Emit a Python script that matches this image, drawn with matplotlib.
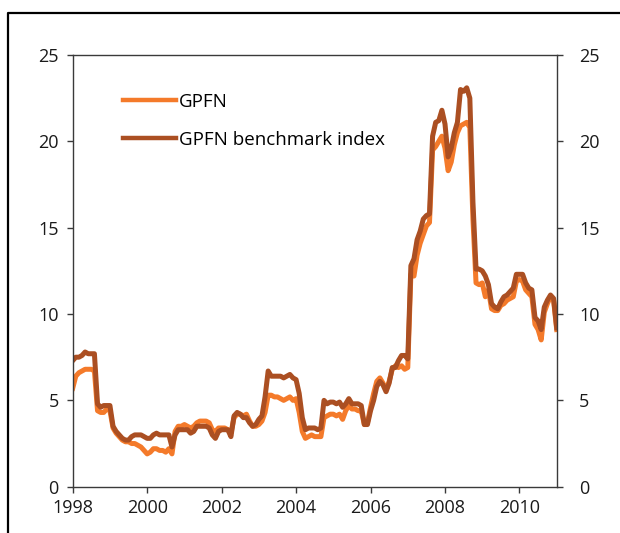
import numpy as np
import matplotlib.pyplot as plt
from matplotlib.lines import Line2D

plt.rcParams['font.family'] = ['Open Sans', 'DejaVu Sans']

# monthly values, Jan 1998 - Jan 2011
gpfn = [
    5.7, 6.4, 6.6, 6.7, 6.8, 6.8, 6.8, 6.7, 4.4, 4.3, 4.3, 4.5,        # 1998
    4.4, 3.4, 3.1, 2.9, 2.7, 2.6, 2.6, 2.5, 2.5, 2.4, 2.3, 2.1,        # 1999
    1.9, 2.0, 2.2, 2.2, 2.1, 2.1, 2.0, 2.2, 1.9, 3.2, 3.5, 3.5,        # 2000
    3.6, 3.5, 3.4, 3.5, 3.7, 3.8, 3.8, 3.8, 3.7, 3.3, 3.2, 3.4,        # 2001
    3.4, 3.4, 3.3, 3.1, 4.0, 4.2, 4.2, 4.1, 4.2, 3.8, 3.5, 3.5,        # 2002
    3.6, 3.8, 4.3, 5.3, 5.3, 5.2, 5.2, 5.1, 5.0, 5.1, 5.2, 5.0,        # 2003
    5.1, 4.3, 3.2, 2.8, 2.9, 3.0, 2.9, 2.9, 2.9, 4.0, 4.1, 4.2,        # 2004
    4.2, 4.1, 4.2, 3.9, 4.4, 4.7, 4.5, 4.5, 4.4, 4.4, 3.6, 3.7,        # 2005
    4.6, 5.4, 6.1, 6.3, 6.0, 5.6, 6.1, 6.8, 7.0, 6.9, 7.0, 6.8,        # 2006
    6.9, 12.3, 12.2, 13.4, 14.1, 14.6, 15.1, 15.3, 19.5, 19.7, 20.0, 20.3,   # 2007
    19.6, 18.3, 18.8, 19.8, 20.5, 20.9, 21.0, 21.1, 20.8, 15.5, 11.8, 11.7,  # 2008
    11.8, 11.0, 11.4, 10.3, 10.2, 10.2, 10.5, 10.6, 10.8, 10.9, 11.0, 11.9,  # 2009
    12.0, 11.9, 11.4, 11.2, 11.0, 9.4, 9.1, 8.5, 10.1, 10.6, 11.0, 10.8,     # 2010
    9.1,
]
bench = [
    7.3, 7.5, 7.5, 7.6, 7.8, 7.7, 7.7, 7.7, 4.8, 4.6, 4.7, 4.7,
    4.7, 3.5, 3.2, 3.0, 2.8, 2.7, 2.7, 2.9, 3.0, 3.0, 3.0, 2.9,
    2.8, 2.8, 3.0, 3.1, 3.0, 3.0, 3.0, 3.0, 2.3, 3.0, 3.3, 3.3,
    3.3, 3.3, 3.1, 3.2, 3.5, 3.5, 3.5, 3.5, 3.4, 3.0, 2.8, 3.2,
    3.3, 3.3, 3.3, 2.9, 4.1, 4.3, 4.2, 4.0, 4.0, 3.7, 3.5, 3.6,
    3.9, 4.1, 5.2, 6.7, 6.4, 6.4, 6.4, 6.4, 6.3, 6.4, 6.5, 6.3,
    6.2, 5.4, 4.0, 3.3, 3.4, 3.4, 3.4, 3.3, 3.4, 5.0, 4.8, 4.9,
    4.9, 4.8, 4.9, 4.6, 4.8, 5.1, 4.8, 4.8, 4.8, 4.7, 3.6, 3.6,
    4.4, 5.0, 5.8, 6.1, 5.9, 5.5, 6.0, 6.9, 6.9, 7.3, 7.6, 7.6,
    7.4, 12.8, 13.2, 14.3, 14.8, 15.5, 15.7, 15.8, 20.3, 21.1, 21.2, 21.8,
    21.0, 19.1, 19.6, 20.5, 21.1, 23.0, 22.9, 23.1, 22.5, 16.5, 12.6, 12.6,
    12.5, 12.2, 11.7, 10.6, 10.4, 10.3, 10.7, 11.0, 11.1, 11.3, 11.5, 12.3,
    12.3, 12.3, 11.8, 11.5, 11.4, 9.8, 9.6, 9.1, 10.4, 10.8, 11.1, 10.9,
    9.2,
]
labels = ['GPFN', 'GPFN benchmark index']
year_ticks = [1998, 2000, 2002, 2004, 2006, 2008, 2010]
y_ticks = [0, 5, 10, 15, 20, 25]

orange = '#f47a2a'
brown = '#ab4f22'
axis_col = '#3a3a3a'
fs = 13

t = 1998 + np.arange(len(gpfn)) / 12

fig = plt.figure(figsize=(6.2, 5.33), dpi=100)
ax = fig.add_axes([72.7 / 620, 1 - 486.7 / 533, 484 / 620, 431.7 / 533])

ax.plot(t, gpfn, color=orange, lw=3.6, label=labels[0], solid_joinstyle='round')
ax.plot(t, bench, color=brown, lw=3.6, label=labels[1], solid_joinstyle='round')

ax.set_xlim(1998, t[-1])
ax.set_ylim(0, 25)
ax.set_xticks(year_ticks)
ax.set_yticks(y_ticks)

for s in ax.spines.values():
    s.set_color(axis_col)
    s.set_linewidth(1.0)

ax.tick_params(axis='both', direction='out', length=4, width=1, color=axis_col,
               labelsize=fs, labelcolor='#1a1a1a')
ax.tick_params(axis='y', pad=6)
ax.tick_params(axis='x', pad=5)

# right hand scale
ax2 = ax.twinx()
ax2.set_ylim(0, 25)
ax2.set_yticks(y_ticks)
ax2.tick_params(axis='y', direction='out', length=4, width=1, color=axis_col,
                labelsize=fs, labelcolor='#1a1a1a', pad=12)
for s in ax2.spines.values():
    s.set_visible(False)

leg = ax.legend(loc='upper left', bbox_to_anchor=(0.104, 0.912), frameon=False,
                fontsize=13.5, handlelength=2.8, handletextpad=0.2,
                labelspacing=1.05, borderaxespad=0, borderpad=0)
for h in leg.get_lines():
    h.set_linewidth(3.2)

# outer frame, left and top edges
fig.add_artist(Line2D([8 / 620, 8 / 620, 1.0], [0.0, 1 - 13 / 533, 1 - 13 / 533],
                      transform=fig.transFigure, color='black', lw=1.6))

fig.savefig('out.png', dpi=100)
